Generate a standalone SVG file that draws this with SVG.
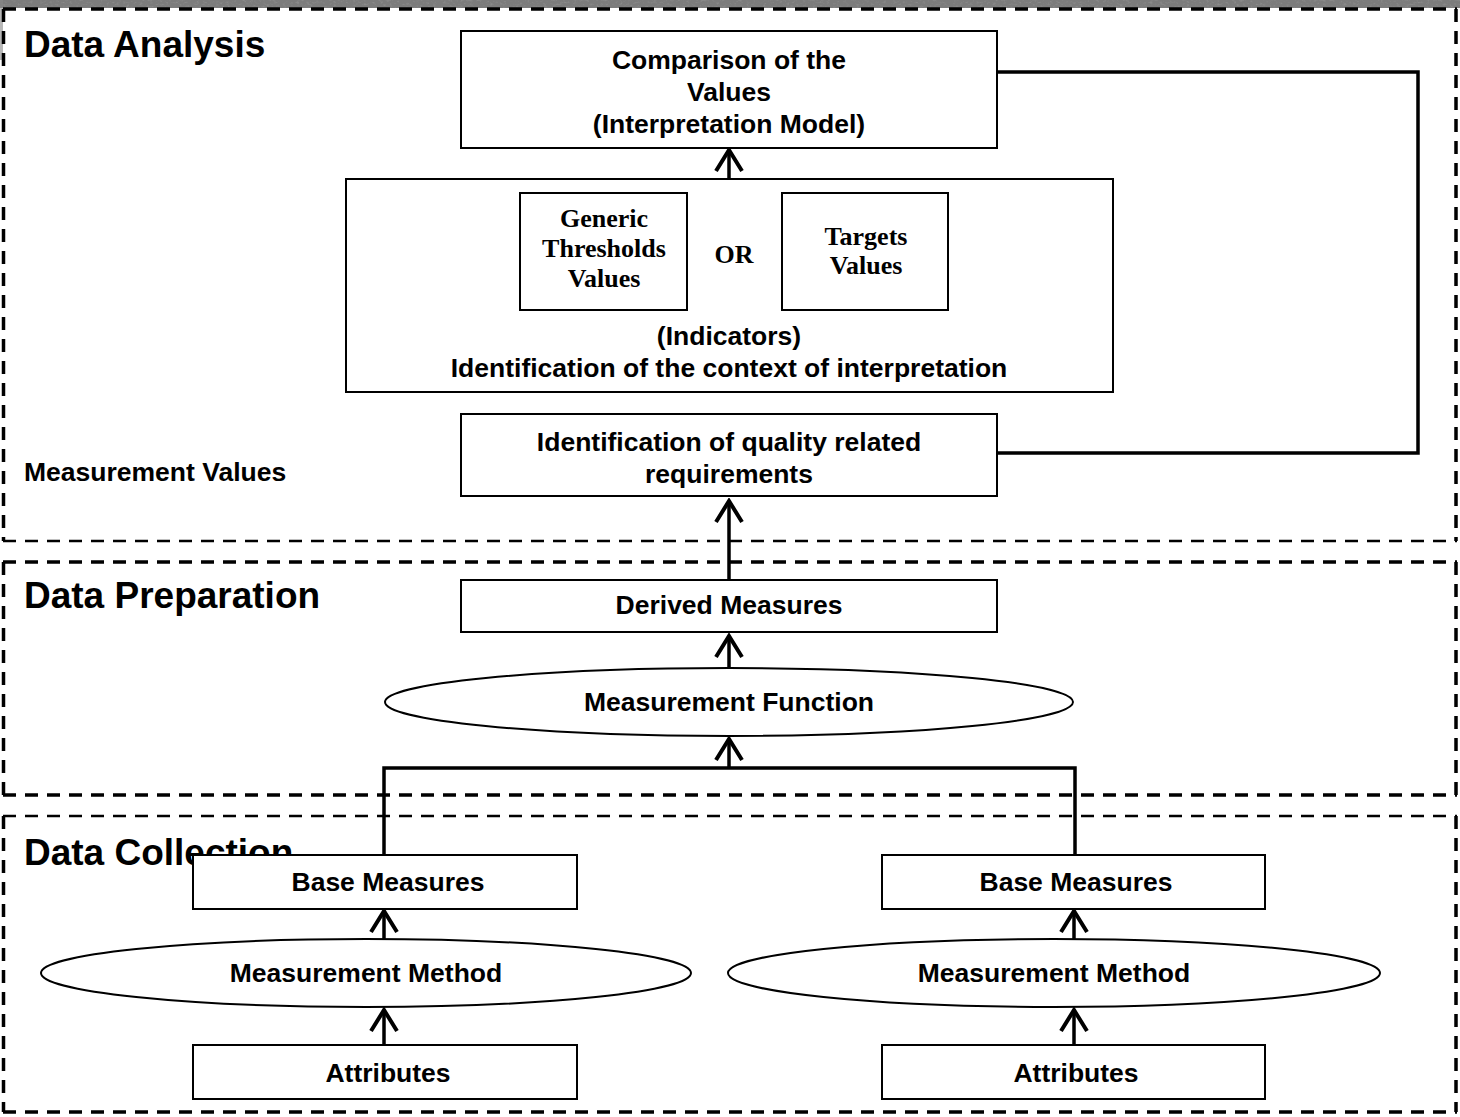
<svg xmlns="http://www.w3.org/2000/svg" width="1460" height="1117" viewBox="0 0 1460 1117">
  <defs>
    <filter id="grain" x="0" y="0" width="100%" height="100%">
      <feTurbulence type="fractalNoise" baseFrequency="0.3 0.5" numOctaves="3" seed="7"/>
      <feColorMatrix type="matrix" values="0 0 0 0 0.2  0 0 0 0 0.2  0 0 0 0 0.2  2 2 0 0 -1.0"/>
    </filter>
    <marker id="openArrow" viewBox="0 0 26 30" refX="23" refY="15" markerWidth="26" markerHeight="30" markerUnits="userSpaceOnUse" orient="auto">
      <path d="M2 2 L23 15 L2 28" fill="none" stroke="#000" stroke-width="4"/>
    </marker>
  </defs>
  <style>
    .frame { fill: none; stroke: #000; stroke-dasharray: 13 9; }
    .thick { stroke-width: 3.5; }
    .thin { stroke-width: 2.5; }
    .box { fill: #fff; stroke: #000; stroke-width: 2; }
    .oval { fill: #fff; stroke: #000; stroke-width: 2; }
    .wire { fill: none; stroke: #000; stroke-width: 3.5; }
    .title { font-family: "Liberation Sans", Arial, sans-serif; font-weight: bold; font-size: 37px; fill: #000; }
    .lbl { font-family: "Liberation Sans", Arial, sans-serif; font-weight: bold; font-size: 26.5px; fill: #000; text-anchor: middle; }
    .side { font-family: "Liberation Sans", Arial, sans-serif; font-weight: bold; font-size: 26.5px; fill: #000; }
    .serif { font-family: "Liberation Serif", "Times New Roman", serif; font-weight: bold; font-size: 26px; fill: #000; text-anchor: middle; }
  </style>

  <rect width="1460" height="1117" fill="#fff"/>
  <!-- worn strip along the top edge -->
  <rect x="0" y="0" width="1460" height="8" fill="#8a8a8a"/>
  <rect x="0" y="0" width="1460" height="8" fill="#333" filter="url(#grain)"/>
  <rect x="0" y="0" width="3" height="60" fill="#888" opacity="0.6"/>

  <!-- stage frames -->
  <g id="frame-analysis">
    <line class="frame thick" x1="3" y1="9" x2="1457" y2="9"/>
    <line class="frame thick" x1="3.5" y1="9" x2="3.5" y2="541"/>
    <line class="frame thick" x1="1456" y1="9" x2="1456" y2="541"/>
    <line class="frame thin" x1="3" y1="541" x2="1457" y2="541"/>
    <text class="title" x="24" y="57">Data Analysis</text>
    <text class="side" x="24" y="481">Measurement Values</text>
  </g>
  <g id="frame-preparation">
    <line class="frame thick" x1="3" y1="562" x2="1457" y2="562"/>
    <line class="frame thick" x1="3.5" y1="562" x2="3.5" y2="795"/>
    <line class="frame thick" x1="1456" y1="562" x2="1456" y2="795"/>
    <line class="frame thick" x1="3" y1="795" x2="1457" y2="795"/>
    <text class="title" x="24" y="608">Data Preparation</text>
  </g>
  <g id="frame-collection">
    <line class="frame thin" x1="3" y1="816" x2="1457" y2="816"/>
    <line class="frame thick" x1="3.5" y1="816" x2="3.5" y2="1112"/>
    <line class="frame thick" x1="1456" y1="816" x2="1456" y2="1112"/>
    <line class="frame thick" x1="3" y1="1112" x2="1457" y2="1112"/>
    <text class="title" x="24" y="865">Data Collection</text>
  </g>

  <!-- connectors -->
  <g id="connectors">
    <path class="wire" d="M997 72 H1418 V453 H997"/>
    <line class="wire" x1="729" y1="179" x2="729" y2="150" marker-end="url(#openArrow)"/>
    <line class="wire" x1="729" y1="580" x2="729" y2="501" marker-end="url(#openArrow)"/>
    <line class="wire" x1="729" y1="668" x2="729" y2="636" marker-end="url(#openArrow)"/>
    <path class="wire" d="M384 855 V768 H1075 V855"/>
    <line class="wire" x1="729" y1="768" x2="729" y2="739" marker-end="url(#openArrow)"/>
    <line class="wire" x1="384" y1="939" x2="384" y2="911" marker-end="url(#openArrow)"/>
    <line class="wire" x1="1074" y1="939" x2="1074" y2="911" marker-end="url(#openArrow)"/>
    <line class="wire" x1="384" y1="1045" x2="384" y2="1010" marker-end="url(#openArrow)"/>
    <line class="wire" x1="1074" y1="1045" x2="1074" y2="1010" marker-end="url(#openArrow)"/>
  </g>

  <!-- analysis nodes -->
  <g id="comparison">
    <rect class="box" x="461" y="31" width="536" height="117"/>
    <text class="lbl" x="729" y="69">Comparison of the</text>
    <text class="lbl" x="729" y="101">Values</text>
    <text class="lbl" x="729" y="133">(Interpretation Model)</text>
  </g>
  <g id="indicators">
    <rect class="box" x="346" y="179" width="767" height="213"/>
    <text class="lbl" x="729" y="345">(Indicators)</text>
    <text class="lbl" x="729" y="377">Identification of the context of interpretation</text>
  </g>
  <g id="generic-thresholds">
    <rect class="box" x="520" y="193" width="167" height="117"/>
    <text class="serif" x="604" y="227">Generic</text>
    <text class="serif" x="604" y="257">Thresholds</text>
    <text class="serif" x="604" y="287">Values</text>
  </g>
  <g id="or-label">
    <text class="serif" x="734" y="263">OR</text>
  </g>
  <g id="targets">
    <rect class="box" x="782" y="193" width="166" height="117"/>
    <text class="serif" x="866" y="245">Targets</text>
    <text class="serif" x="866" y="274">Values</text>
  </g>
  <g id="quality-requirements">
    <rect class="box" x="461" y="414" width="536" height="82"/>
    <text class="lbl" x="729" y="451">Identification of quality related</text>
    <text class="lbl" x="729" y="483">requirements</text>
  </g>

  <!-- preparation nodes -->
  <g id="derived-measures">
    <rect class="box" x="461" y="580" width="536" height="52"/>
    <text class="lbl" x="729" y="614">Derived Measures</text>
  </g>
  <g id="measurement-function">
    <ellipse class="oval" cx="729" cy="702" rx="344" ry="34"/>
    <text class="lbl" x="729" y="711">Measurement Function</text>
  </g>

  <!-- collection nodes, left -->
  <g id="base-measures-left">
    <rect class="box" x="193" y="855" width="384" height="54"/>
    <text class="lbl" x="388" y="891">Base Measures</text>
  </g>
  <g id="measurement-method-left">
    <ellipse class="oval" cx="366" cy="973" rx="325" ry="34"/>
    <text class="lbl" x="366" y="982">Measurement Method</text>
  </g>
  <g id="attributes-left">
    <rect class="box" x="193" y="1045" width="384" height="54"/>
    <text class="lbl" x="388" y="1082">Attributes</text>
  </g>

  <!-- collection nodes, right -->
  <g id="base-measures-right">
    <rect class="box" x="882" y="855" width="383" height="54"/>
    <text class="lbl" x="1076" y="891">Base Measures</text>
  </g>
  <g id="measurement-method-right">
    <ellipse class="oval" cx="1054" cy="973" rx="326" ry="34"/>
    <text class="lbl" x="1054" y="982">Measurement Method</text>
  </g>
  <g id="attributes-right">
    <rect class="box" x="882" y="1045" width="383" height="54"/>
    <text class="lbl" x="1076" y="1082">Attributes</text>
  </g>
</svg>
